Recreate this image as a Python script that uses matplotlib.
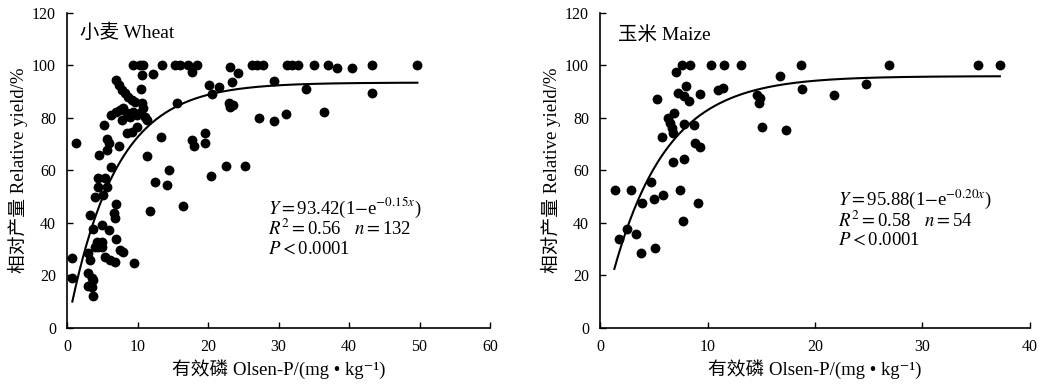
import numpy as np
import matplotlib
matplotlib.use("Agg")
import matplotlib.pyplot as plt

plt.rcParams['font.family'] = ['Liberation Serif', 'Noto Sans CJK SC', 'DejaVu Serif']
plt.rcParams['mathtext.fontset'] = 'stix'

# 小麦 Wheat: Olsen-P (mg/kg) vs relative yield (%)
wheat_x = [0.7, 0.75, 1.3, 3.0, 3.5, 3.7, 3.0, 3.5, 3.7, 3.0, 3.3, 4.0, 4.4, 4.9, 4.2, 4.9,
           3.7, 4.9, 6.0, 3.3, 6.6, 6.8, 7.0, 4.0, 5.1, 4.4, 5.6, 4.4, 5.4, 5.4, 6.1, 6.8,
           7.0, 7.5, 8.0, 9.5, 6.2, 4.6, 5.6, 5.6, 5.9, 7.4, 5.2, 6.3, 7.0, 7.5, 8.0, 7.8,
           8.5, 8.9, 9.4, 9.9, 10.4, 11.1, 11.3, 9.9, 9.2, 8.5, 10.6, 10.8, 7.0, 7.3, 7.8,
           8.2, 8.7, 9.2, 9.6, 10.5, 9.4, 10.4, 10.8, 10.6, 12.2, 13.4, 15.3, 16.0, 17.2,
           18.4, 17.7, 15.6, 11.4, 13.3, 11.8, 12.5, 14.2, 14.5, 16.4, 17.7, 18.0, 19.6,
           19.6, 20.4, 20.2, 21.6, 20.5, 22.6, 23.0, 23.6, 23.1, 23.4, 23.1, 24.3, 25.2,
           26.2, 26.9, 27.8, 27.3, 29.3, 29.3, 31.0, 31.2, 31.9, 32.8, 33.9, 35.0, 37.0,
           36.5, 38.3, 40.4, 43.2, 43.2, 49.6]
wheat_y = [19.1, 26.7, 70.3, 15.9, 15.6, 12.1, 20.7, 18.8, 18.2, 28.4, 25.8, 30.9, 30.9, 30.9,
           32.8, 32.8, 37.5, 39.1, 37.2, 43.0, 43.6, 41.7, 47.1, 49.9, 50.6, 53.7, 53.7,
           56.9, 56.9, 27.1, 25.8, 25.2, 33.7, 29.6, 29.0, 24.5, 61.4, 65.8, 67.7, 71.8,
           70.3, 69.4, 77.2, 81.0, 82.3, 83.0, 83.6, 79.2, 81.7, 80.4, 82.3, 81.0, 81.7,
           80.4, 79.2, 76.6, 74.7, 74.1, 85.5, 83.6, 94.4, 92.5, 90.6, 89.3, 88.0, 86.8,
           86.1, 90.9, 100, 100, 100, 96.3, 96.7, 100, 100, 100, 100, 100, 97.6, 85.5,
           65.4, 72.8, 44.6, 55.6, 54.4, 60.1, 46.4, 71.5, 69.2, 74.1, 70.3, 57.8, 92.5,
           91.6, 89.1, 61.6, 85.5, 84.9, 84.0, 93.8, 99.5, 97.2, 61.6, 100, 100, 100, 79.8,
           94.1, 78.8, 81.4, 100, 100, 100, 91.0, 100, 100, 82.1, 98.9, 98.9, 100, 89.6, 100]

# 玉米 Maize
maize_x = [1.4, 2.9, 1.8, 2.5, 3.3, 3.9, 3.8, 4.7, 5.0, 5.1, 5.9, 5.3, 5.8, 6.3, 6.5, 6.7,
           6.8, 6.9, 6.8, 7.1, 7.4, 7.6, 8.4, 7.3, 8.0, 7.8, 8.3, 7.8, 7.8, 7.7, 8.7, 8.8,
           9.3, 9.1, 9.3, 10.3, 11.5, 13.1, 11.0, 11.4, 14.6, 14.9, 14.8, 15.1, 16.7, 18.7,
           18.8, 17.3, 21.8, 24.7, 26.9, 35.2, 37.2]
maize_y = [52.4, 52.4, 33.8, 37.7, 35.6, 47.7, 28.5, 55.6, 49.2, 30.4, 50.5, 87.0, 72.7,
           80.0, 78.0, 76.2, 74.2, 81.7, 63.3, 97.3, 52.4, 100, 100, 89.6, 92.2, 88.3, 86.4,
           77.7, 64.3, 40.8, 77.4, 70.4, 68.7, 47.6, 89.0, 100, 100, 100, 90.5, 91.2, 88.7,
           87.4, 85.5, 76.4, 96.0, 100, 90.9, 75.3, 88.7, 93.0, 100, 100, 100]

# fitted model Y = a(1 - e^(-b x)) and drawn range
wheat_fit = (93.42, 0.15, 0.75, 49.7)
maize_fit = (95.88, 0.20, 1.33, 37.2)

wheat_text = [r"$Y=$93.42(1$-$e$^{-0.15x}$)", r"$R^2=$0.56   $n=$132", r"$P<$0.0001"]
maize_text = [r"$Y=$95.88(1$-$e$^{-0.20x}$)", r"$R^2=$0.58   $n=$54", r"$P<$0.0001"]

fig = plt.figure(figsize=(10.41, 3.89), dpi=100)
ax1 = fig.add_axes([0.0644, 0.1576, 0.4063, 0.8094])
ax2 = fig.add_axes([0.5764, 0.1576, 0.4130, 0.8094])

panels = [
    (ax1, wheat_x, wheat_y, wheat_fit, "小麦 Wheat", wheat_text, 60, (1.8, 112.5), (28.5, [45.6, 37.6, 30.0])),
    (ax2, maize_x, maize_y, maize_fit, "玉米 Maize", maize_text, 40, (1.7, 111.5), (22.1, [48.8, 40.8, 33.5])),
]

for ax, xs, ys, fit, title, lines, xmax, tpos, epos in panels:
    ax.scatter(xs, ys, s=50, color='black', zorder=3, linewidths=0)
    a, b, x0, x1 = fit
    xx = np.linspace(x0, x1, 300)
    ax.plot(xx, a * (1 - np.exp(-b * xx)), color='black', lw=1.5, zorder=2)
    ax.set_xlim(0, xmax)
    ax.set_ylim(0, 120)
    ax.set_xticks(np.arange(0, xmax + 1, 10))
    ax.set_yticks(np.arange(0, 121, 20))
    for s in ['top', 'right']:
        ax.spines[s].set_visible(False)
    for s in ['left', 'bottom']:
        ax.spines[s].set_linewidth(1.2)
    ax.tick_params(direction='in', length=4, width=1, labelsize=11.5, pad=8)
    ax.set_xlabel("有效磷 Olsen-P/(mg • kg⁻¹)", fontsize=13.5, labelpad=3)
    ax.set_ylabel("相对产量 Relative yield/%", fontsize=13.5, labelpad=3)
    ax.text(tpos[0], tpos[1], title, fontsize=14, va='center', ha='left')
    for ln, yy in zip(lines, epos[1]):
        ax.text(epos[0], yy, ln, fontsize=13.5, va='center', ha='left')

plt.savefig("out.png", dpi=100)
